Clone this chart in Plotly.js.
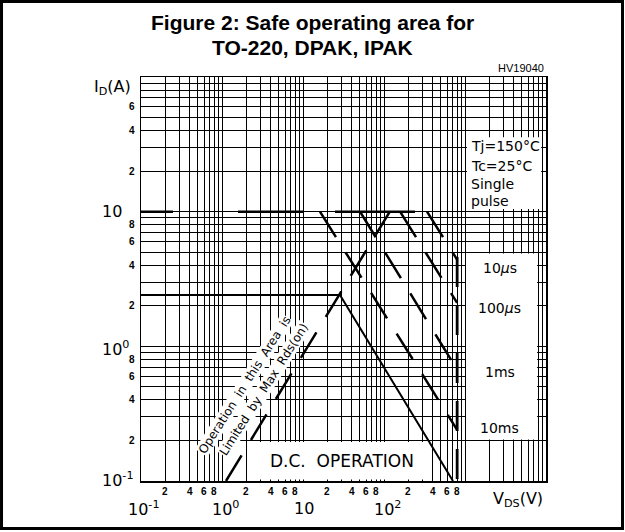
<!DOCTYPE html>
<html><head><meta charset="utf-8">
<script src="https://cdn.plot.ly/plotly-3.0.1.min.js"></script>
<style>html,body{margin:0;padding:0;background:#fff;}#chart{width:625px;height:532px;}</style>
</head><body><div id="chart"></div>
<script>
// ---- data (VDS in V, ID in A) ----
const vdsRds   = [1.12, 118];   const idRds   = [0.1, 10];
const vdsIdm   = [0.1, 340];    const idIdm   = [10, 10];
const vds10us  = [340, 800];    const id10us  = [10, 4.4];
const vds100us = [158, 800];    const id100us = [10, 2.1];
const vds1ms   = [50.6, 800];   const id1ms   = [10, 0.67];
const vds10ms  = [16.2, 800];   const id10ms  = [10, 0.24];
const vdsMax   = [800, 800];    const idMax   = [4.6, 0.1];
const vdsDc    = [0.1, 28.6, 711]; const idDc = [2.41, 2.41, 0.1];

// tick labels
const xDecadeVals   = [0.1, 1, 10, 100];
const xDecadeLabels = ['10<sup>-1</sup>', '10<sup>0</sup>', '10', '10<sup>2</sup>'];
const xMinorVals    = [0.2,0.4,0.6,0.8, 2,4,6,8, 20,40,60,80, 200,400,600,800];
const xMinorLabels  = ['2','4','6','8','2','4','6','8','2','4','6','8','2','4','6','8'];
const yDecadeVals   = [0.1, 1, 10];
const yDecadeLabels = ['10<sup>-1</sup>', '10<sup>0</sup>', '10'];
const yMinorVals    = [0.2,0.4,0.6,0.8, 2,4,6,8, 20,40,60];
const yMinorLabels  = ['2','4','6','8','2','4','6','8','2','4','6'];
const pulseLabels   = ['10<i>μ</i>s', '100<i>μ</i>s', '1ms', '10ms'];
const condLabels    = ['Tj=150°C', 'Tc=25°C', 'Single', 'pulse'];

const ARIAL = 'Liberation Sans, Arial, sans-serif';
const DEJA  = 'DejaVu Sans, sans-serif';
const DASH  = '30px,18px';

function ln(x, y, dash, w) {
  return {x: x, y: y, type: 'scatter', mode: 'lines', hoverinfo: 'skip', showlegend: false,
          line: {color: '#000', width: w, dash: dash}};
}
const traces = [
  ln(vdsRds, idRds, DASH, 2.5),
  ln(vdsIdm, idIdm, '32px,65px,65px,32px,80px,20px', 2.5),
  ln(vds10us, id10us, DASH, 2.5),
  ln(vds100us, id100us, DASH, 2.5),
  ln(vds1ms, id1ms, DASH, 2.5),
  ln(vds10ms, id10ms, DASH, 2.5),
  ln(vdsMax, idMax, DASH, 2.8),
  ln(vdsDc, idDc, 'solid', 2)
];

const L = Math.log10;
const ann = [];
function A(o) { o.showarrow = false; ann.push(o); }

// title
A({text: '<b>Figure 2: Safe operating area for</b>', xref: 'paper', yref: 'paper', x: 0.4235, y: 1.136,
   xanchor: 'center', yanchor: 'middle', font: {family: ARIAL, size: 21, color: '#000'}});
A({text: '<b>TO-220, DPAK, IPAK</b>', xref: 'paper', yref: 'paper', x: 0.4235, y: 1.074,
   xanchor: 'center', yanchor: 'middle', font: {family: ARIAL, size: 21, color: '#000'}});
A({text: 'HV19040', xref: 'paper', yref: 'paper', x: 1, y: 1.022, xanchor: 'right', yanchor: 'middle',
   font: {family: ARIAL, size: 11, color: '#000'}});
// axis titles
A({text: 'I<sub>D</sub>(A)', xref: 'paper', yref: 'paper', x: 0, xshift: -8, y: 0.975,
   xanchor: 'right', yanchor: 'middle', font: {family: DEJA, size: 16, color: '#000'}});
A({text: 'V<sub>DS</sub>(V)', xref: 'paper', yref: 'paper', x: 1, xshift: -1, y: -0.0446,
   xanchor: 'right', yanchor: 'middle', font: {family: DEJA, size: 16, color: '#000'}});
// tick labels
xMinorVals.forEach((v, i) => A({text: '<b>' + xMinorLabels[i] + '</b>', xref: 'x', yref: 'paper', x: L(v), y: 0,
   yshift: -10, xanchor: 'center', yanchor: 'middle', font: {family: ARIAL, size: 10, color: '#000'}}));
xDecadeVals.forEach((v, i) => A({text: xDecadeLabels[i], xref: 'x', yref: 'paper', x: L(v), y: 0,
   yshift: -27, xshift: (i === 2 ? 1 : 3), xanchor: 'center', yanchor: 'middle', font: {family: DEJA, size: 16, color: '#000'}}));
yMinorVals.forEach((v, i) => A({text: '<b>' + yMinorLabels[i] + '</b>', xref: 'paper', yref: 'y', x: 0, y: L(v),
   xshift: -4, xanchor: 'right', yanchor: 'middle', font: {family: ARIAL, size: 10, color: '#000'}}));
yDecadeVals.forEach((v, i) => A({text: yDecadeLabels[i], xref: 'paper', yref: 'y', x: 0, y: L(v),
   xshift: -41, yshift: (i === 0 ? 2 : (i === 2 ? 0 : -2)), xanchor: 'left', yanchor: 'middle', font: {family: DEJA, size: 16, color: '#000'}}));
// condition box text
const condY = [0.829, 0.780, 0.735, 0.693];
condLabels.forEach((t, i) => A({text: t, xref: 'paper', yref: 'paper', x: 0.81, y: condY[i],
   xanchor: 'left', yanchor: 'middle', font: {family: DEJA, size: 14, color: '#000'}}));
// pulse labels
const pulseY = [0.527, 0.428, 0.270, 0.131];
pulseLabels.forEach((t, i) => A({text: t, xref: 'paper', yref: 'paper', x: 0.886, y: pulseY[i],
   xanchor: 'center', yanchor: 'middle', font: {family: DEJA, size: 14, color: '#000'}}));
// DC operation
A({text: 'D.C.\u00a0\u00a0OPERATION', xref: 'paper', yref: 'paper', x: 0.496, y: 0.0495,
   xanchor: 'center', yanchor: 'middle', font: {family: DEJA, size: 17, color: '#000'}});
// rotated Rds(on) text
A({text: 'Operation\u00a0\u00a0in\u00a0\u00a0this\u00a0\u00a0Area\u00a0\u00a0is', xref: 'paper', yref: 'paper',
   x: 0.2565, y: 0.2364, xanchor: 'center', yanchor: 'middle', textangle: -57.5, bgcolor: '#fff', borderpad: 0,
   font: {family: DEJA, size: 12, color: '#000'}});
A({text: 'Limited\u00a0\u00a0by\u00a0\u00a0Max\u00a0\u00a0Rds(on)', xref: 'paper', yref: 'paper',
   x: 0.3044, y: 0.2272, xanchor: 'center', yanchor: 'middle', textangle: -57.5, bgcolor: '#fff', borderpad: 0,
   font: {family: DEJA, size: 12, color: '#000'}});

const shapes = [
  // outer frame
  {type: 'rect', xref: 'paper', yref: 'paper', x0: -0.3444, x1: 1.1889, y0: -0.1176, y1: 1.1869,
   line: {color: '#000', width: 3}, fillcolor: 'rgba(0,0,0,0)', layer: 'above'},
  // white label boxes
  {type: 'rect', xref: 'paper', yref: 'paper', x0: 0.805, x1: 0.988, y0: 0.673, y1: 0.851,
   line: {width: 0}, fillcolor: '#fff', layer: 'above'},
  {type: 'rect', xref: 'paper', yref: 'paper', x0: 0.8025, x1: 0.978, y0: 0.103, y1: 0.563,
   line: {width: 0}, fillcolor: '#fff', layer: 'above'},
  {type: 'rect', xref: 'paper', yref: 'paper', x0: 0.286, x1: 0.709, y0: 0.004, y1: 0.0965,
   line: {width: 0}, fillcolor: '#fff', layer: 'above'}
];

const axisCommon = {type: 'log', dtick: 'D1', showgrid: true, gridcolor: '#000', gridwidth: 1,
  showline: true, mirror: true, linecolor: '#000', linewidth: 1.5, ticks: '', showticklabels: false,
  zeroline: false, fixedrange: true};

const layout = {
  width: 625, height: 532,
  margin: {l: 141, r: 79, t: 77, b: 51, pad: 0},
  paper_bgcolor: '#fff', plot_bgcolor: '#fff',
  xaxis: Object.assign({}, axisCommon, {range: [-1, 4]}),
  yaxis: Object.assign({}, axisCommon, {range: [-1, 2]}),
  annotations: ann, shapes: shapes, showlegend: false
};
Plotly.newPlot('chart', traces, layout, {displayModeBar: false, staticPlot: true});
</script>
</body></html>
